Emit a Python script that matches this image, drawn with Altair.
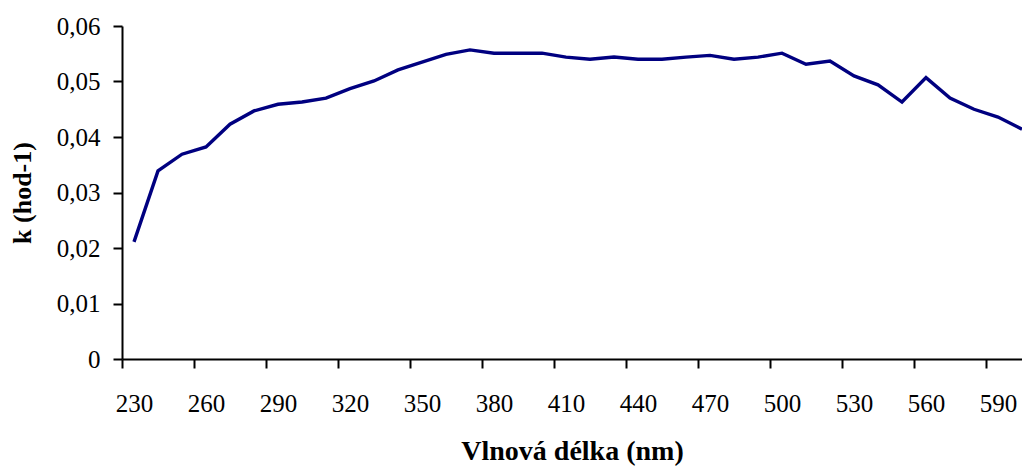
import altair as alt
import pandas as pd

# Wavelength (nm) and rate constant k (hod-1)
wavelength = [230, 240, 250, 260, 270, 280, 290, 300, 310, 320,
              330, 340, 350, 360, 370, 380, 390, 400, 410, 420,
              430, 440, 450, 460, 470, 480, 490, 500, 510, 520,
              530, 540, 550, 560, 570, 580, 590, 600]
k_values = [0.0211, 0.0339, 0.0369, 0.0382, 0.0423, 0.0447, 0.0459, 0.0463, 0.0470, 0.0487,
            0.0501, 0.0521, 0.0535, 0.0549, 0.0557, 0.0551, 0.0551, 0.0551, 0.0544, 0.0540,
            0.0544, 0.0540, 0.0540, 0.0544, 0.0547, 0.0540, 0.0544, 0.0551, 0.0531, 0.0537,
            0.0510, 0.0494, 0.0463, 0.0507, 0.0470, 0.0450, 0.0436, 0.0414]

x_labels = [230, 260, 290, 320, 350, 380, 410, 440, 470, 500, 530, 560, 590]
y_ticks = [0, 0.01, 0.02, 0.03, 0.04, 0.05, 0.06]

df = pd.DataFrame({"wl": wavelength, "k": k_values})

FONT = "Liberation Serif"
step = 10
# category-style axis: ticks sit between categories, labels at category centres
x_tick_pos = [v - step / 2 for v in x_labels]

chart = (
    alt.Chart(df)
    .mark_line(color="#000080", strokeWidth=3.4, clip=True)
    .encode(
        x=alt.X(
            "wl:Q",
            scale=alt.Scale(domain=[wavelength[0] - step / 2, wavelength[-1]], nice=False, zero=False),
            axis=alt.Axis(
                title="Vlnová délka (nm)",
                titleFontSize=28,
                values=x_tick_pos,
                labelExpr=f"datum.value + {step / 2}",
                labelOffset=12,
                labelFlush=False,
                labelOverlap=False,
                labelBound=False,
                labelPadding=23,
                titlePadding=21,
            ),
        ),
        y=alt.Y(
            "k:Q",
            scale=alt.Scale(domain=[0, 0.06], nice=False),
            axis=alt.Axis(
                title="k (hod-1)",
                values=y_ticks,
                labelExpr="datum.value == 0 ? '0' : replace(format(datum.value, '.2f'), '.', ',')",
                labelPadding=13,
                titlePadding=21,
            ),
        ),
    )
    .properties(
        width=900,
        height=333,
        background="white",
        autosize=alt.AutoSizeParams(type="none"),
        padding={"left": 122, "top": 26, "right": 0, "bottom": 111},
    )
    .configure_view(stroke=None)
    .configure_axis(
        grid=False,
        domainColor="black",
        domainWidth=2,
        tickColor="black",
        tickWidth=2,
        tickSize=9,
        labelFont=FONT,
        labelFontSize=25,
        labelColor="black",
        titleFont=FONT,
        titleFontSize=26,
        titleFontWeight="bold",
        titleColor="black",
    )
)

chart.save("out.html", embed_options={"renderer": "svg", "actions": False})
